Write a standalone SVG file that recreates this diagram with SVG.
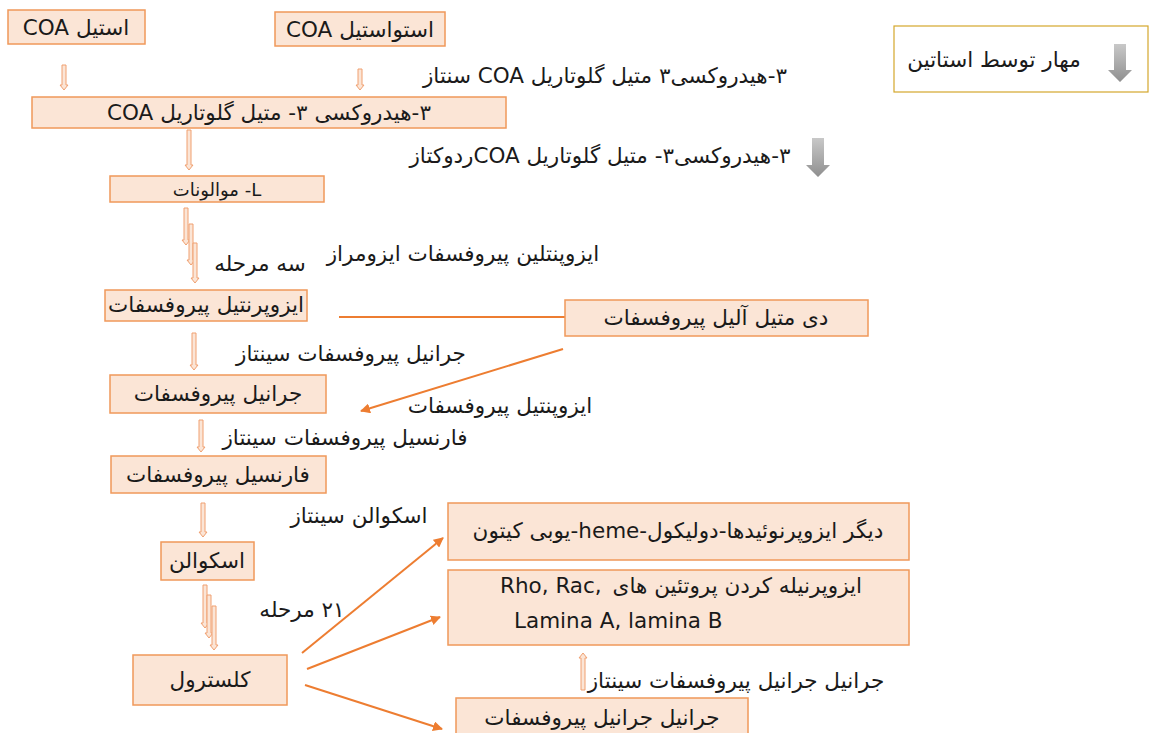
<svg xmlns="http://www.w3.org/2000/svg" width="1161" height="733" viewBox="0 0 1161 733">
<defs>
<style>
.box{fill:#FBE5D6;stroke:#F0985A;stroke-width:1.5}
.sbox{fill:#FFFFFF;stroke:#D4A72C;stroke-width:1.2}
text{font-family:"DejaVu Sans","Noto Sans",sans-serif;fill:#1a1a1a;font-size:21.5px}
.rtl{direction:rtl;unicode-bidi:embed}
.ha{fill:#FBE5D6;stroke:#F0A070;stroke-width:1}
.ln{stroke:#ED7D31;stroke-width:2;fill:none}
.ga{fill:url(#gg)}
</style>
<linearGradient id="gg" x1="0" y1="0" x2="0" y2="1">
<stop offset="0" stop-color="#c8c8c8"/>
<stop offset="1" stop-color="#8f8f8f"/>
</linearGradient>
<marker id="ah" viewBox="0 0 10 10" refX="9" refY="5" markerWidth="5" markerHeight="5" orient="auto">
<path d="M0,0 L10,5 L0,10 Z" fill="#ED7D31"/>
</marker>
</defs>
<rect width="1161" height="733" fill="#FFFFFF"/>

<g id="connectors">
<path class="ha" d="M62,65 h4 V85 h2 l-4,5 l-4,-5 h2 Z"/>
<path class="ha" d="M358,69 h4 V85 h2 l-4,5 l-4,-5 h2 Z"/>
<path class="ha" d="M187,130 h4 V165 h2 l-4,5 l-4,-5 h2 Z"/>
<path class="ha" d="M184,208 h4 V240 h2 l-4,5 l-4,-5 h2 Z"/>
<path class="ha" d="M189,224 h4 V260 h2 l-4,5 l-4,-5 h2 Z"/>
<path class="ha" d="M193,243 h4 V278 h2 l-4,5 l-4,-5 h2 Z"/>
<path class="ha" d="M192,333 h4 V365 h2 l-4,5 l-4,-5 h2 Z"/>
<path class="ha" d="M199,420 h4 V447 h2 l-4,5 l-4,-5 h2 Z"/>
<path class="ha" d="M201,503 h4 V532 h2 l-4,5 l-4,-5 h2 Z"/>
<path class="ha" d="M203,585 h4 V623 h2 l-4,5 l-4,-5 h2 Z"/>
<path class="ha" d="M207,595 h4 V633 h2 l-4,5 l-4,-5 h2 Z"/>
<path class="ha" d="M212,606 h4 V645 h2 l-4,5 l-4,-5 h2 Z"/>
<path class="ha" d="M581,690 h4 V658 h2 l-4,-5 l-4,5 h2 Z"/>
<line class="ln" x1="339" y1="317" x2="565" y2="317"/>
<line class="ln" x1="563" y1="349" x2="361" y2="411" marker-end="url(#ah)"/>
<line class="ln" x1="302" y1="653" x2="443" y2="538" marker-end="url(#ah)"/>
<line class="ln" x1="307" y1="669" x2="440" y2="617" marker-end="url(#ah)"/>
<line class="ln" x1="305" y1="685" x2="442" y2="729" marker-end="url(#ah)"/>
<path class="ga" d="M812,138 h12 V165 h6 l-12,12 l-12,-12 h6 Z"/>
</g>

<g id="n-acetylcoa">
<rect class="box" x="8" y="10" width="137" height="34"/>
<text class="rtl" x="76" y="35" text-anchor="middle">استیل COA</text>
</g>
<g id="n-acetoacetylcoa">
<rect class="box" x="275" y="12" width="170" height="34"/>
<text class="rtl" x="360" y="37" text-anchor="middle">استواستیل COA</text>
</g>
<g id="n-hmgcoa">
<rect class="box" x="32" y="97" width="474" height="31"/>
<text class="rtl" x="269" y="120" text-anchor="middle">۳-هیدروکسی ۳- متیل گلوتاریل COA</text>
</g>
<g id="n-mevalonate">
<rect class="box" x="110" y="176" width="214" height="26"/>
<text class="rtl" x="217" y="196" text-anchor="middle" style="font-size:18px">L- موالونات</text>
</g>
<g id="n-ipp">
<rect class="box" x="105" y="290" width="202" height="31"/>
<text class="rtl" x="206" y="312" text-anchor="middle">ایزوپرنتیل پیروفسفات</text>
</g>
<g id="n-dmapp">
<rect class="box" x="565" y="300" width="303" height="36"/>
<text class="rtl" x="716" y="325" text-anchor="middle">دی متیل آلیل پیروفسفات</text>
</g>
<g id="n-gpp">
<rect class="box" x="110" y="375" width="216" height="38"/>
<text class="rtl" x="218" y="401" text-anchor="middle">جرانیل پیروفسفات</text>
</g>
<g id="n-fpp">
<rect class="box" x="111" y="456" width="215" height="37"/>
<text class="rtl" x="218" y="482" text-anchor="middle">فارنسیل پیروفسفات</text>
</g>
<g id="n-squalene">
<rect class="box" x="161" y="542" width="93" height="38"/>
<text class="rtl" x="207" y="568" text-anchor="middle">اسکوالن</text>
</g>
<g id="n-cholesterol">
<rect class="box" x="133" y="655" width="154" height="50"/>
<text class="rtl" x="210" y="687" text-anchor="middle">کلسترول</text>
</g>
<g id="n-other">
<rect class="box" x="448" y="503" width="461" height="57"/>
<text class="rtl" x="678" y="538" text-anchor="middle">دیگر ایزوپرنوئیدها-دولیکول-heme-یوبی کیتون</text>
</g>
<g id="n-prenylation">
<rect class="box" x="448" y="570" width="461" height="75"/>
<text class="rtl" x="862" y="593" text-anchor="start">ایزوپرنیله کردن پروتئین های</text>
<text x="500" y="593" text-anchor="start">Rho, Rac,</text>
<text x="514" y="628" text-anchor="start">Lamina A, lamina B</text>
</g>
<g id="n-ggpp">
<rect class="box" x="456" y="698" width="292" height="40"/>
<text class="rtl" x="602" y="725" text-anchor="middle">جرانیل جرانیل پیروفسفات</text>
</g>
<g id="n-statin">
<rect class="sbox" x="894" y="26" width="254" height="66"/>
<text class="rtl" x="994" y="67" text-anchor="middle">مهار توسط استاتین</text>
<path class="ga" d="M1114,44 h12 V70 h6 l-12,12 l-12,-12 h6 Z"/>
</g>

<g id="labels">
<text class="rtl" x="605" y="83" text-anchor="middle">۳-هیدروکسی۳ متیل گلوتاریل  COA سنتاز</text>
<text class="rtl" x="600" y="163" text-anchor="middle">۳-هیدروکسی۳- متیل گلوتاریل  COAردوکتاز</text>
<text class="rtl" x="463" y="261" text-anchor="middle">ایزوپنتلین پیروفسفات ایزومراز</text>
<text class="rtl" x="260" y="271" text-anchor="middle">سه مرحله</text>
<text class="rtl" x="351" y="361" text-anchor="middle">جرانیل پیروفسفات سینتاز</text>
<text class="rtl" x="500" y="413" text-anchor="middle">ایزوپنتیل پیروفسفات</text>
<text class="rtl" x="345" y="445" text-anchor="middle">فارنسیل پیروفسفات سینتاز</text>
<text class="rtl" x="359" y="523" text-anchor="middle">اسکوالن سینتاز</text>
<text class="rtl" x="302" y="617" text-anchor="middle">۲۱ مرحله</text>
<text class="rtl" x="736" y="688" text-anchor="middle">جرانیل جرانیل پیروفسفات سینتاز</text>
</g>
</svg>
